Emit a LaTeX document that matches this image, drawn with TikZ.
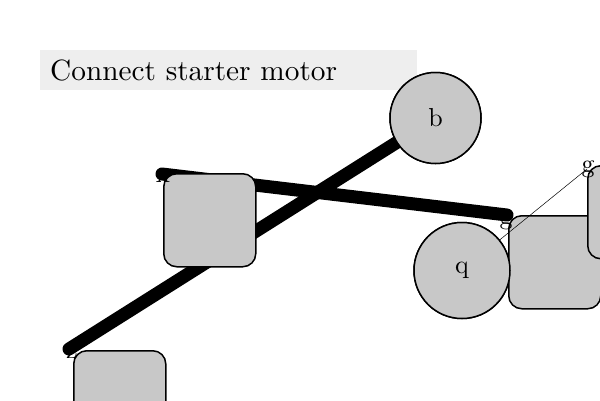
\documentclass[tikz,border=0pt]{standalone}
\usepackage{tikz}
\definecolor{shapefill}{gray}{0.784}
\definecolor{titlefill}{gray}{0.935}
% text is set at 10pt and enlarged, keeping the 10pt design
\newcommand{\bigtxt}[2][2.6]{\scalebox{#1}{\fontsize{10}{12}\selectfont #2}}
\tikzset{
  lbl/.style={inner sep=0pt},
  part/.style={draw=black, fill=shapefill, line width=1.5pt, rounded corners=13pt,
    minimum width=92pt, minimum height=93pt, anchor=north west, inner sep=0pt},
  wheel/.style={circle, draw=black, fill=shapefill, line width=1.5pt, inner sep=0pt},
  heavy/.style={line width=13pt, line cap=round},
  wire/.style={line width=0.5pt},
}
\begin{document}
\begin{tikzpicture}[x=1pt, y=-1pt]
  \useasboundingbox (0,0) rectangle (600,400);
  % title banner
  \node[fill=titlefill, anchor=north west, minimum width=377pt, minimum height=40pt,
        inner xsep=10pt, inner ysep=0pt, text width=357pt, align=left] (title)
        at (40,50) {\bigtxt[2.93]{Connect starter motor}};
  % end points of the links
  \coordinate (x) at (162,174);
  \coordinate (z) at (69,349);
  \coordinate (g) at (507,215);
  \coordinate (gg) at (587,169);
  % round parts
  \node[wheel, minimum size=91pt] (b) at (435.5,118) {\bigtxt{b}};
  \node[wheel, minimum size=96pt] (q) at (462,270.5) {\bigtxt{q}};
  % heavy links
  \draw[heavy] (x) -- (g);
  \draw[heavy] (z) -- (b);
  % housings
  \node[part] (px) at (163,173) {};
  \node[part] (pz) at (73,350) {};
  \node[part] (pg) at (508,215) {};
  \node[part] (pgg) at (587,165) {};
  % redraw the wheels over the housings
  \node[wheel, minimum size=91pt] at (b) {\bigtxt{b}};
  \node[wheel, minimum size=96pt] at (q) {\bigtxt{q}};
  % thin wire
  \draw[wire] (q) -- (gg);
  % point labels
  \node[lbl] (lx) at (163,176.5) {\bigtxt{x}};
  \node[lbl] (lz) at (72,352.5) {\bigtxt{z}};
  \node[lbl] (lg) at (506,221) {\bigtxt{g}};
  \node[lbl] (lgg) at (588,169.5) {\bigtxt{g}};
\end{tikzpicture}
\end{document}
